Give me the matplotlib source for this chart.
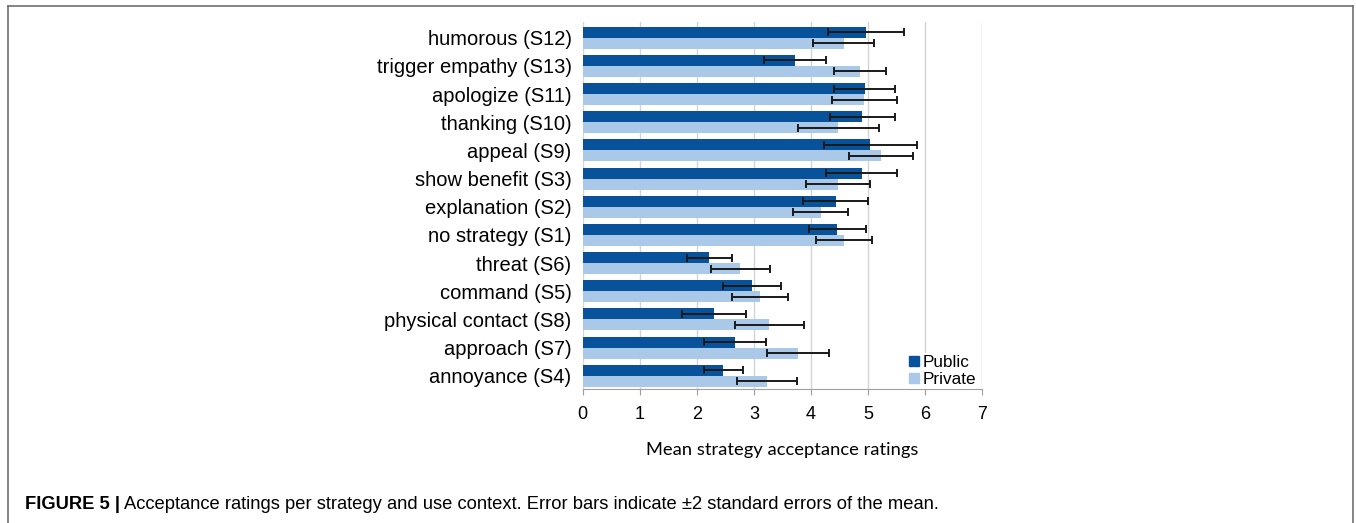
import numpy as np
import matplotlib
matplotlib.use("Agg")
import matplotlib.pyplot as plt
from matplotlib.lines import Line2D

# strategies, listed top to bottom
strategies = ["humorous (S12)", "trigger empathy (S13)", "apologize (S11)",
              "thanking (S10)", "appeal (S9)", "show benefit (S3)",
              "explanation (S2)", "no strategy (S1)", "threat (S6)",
              "command (S5)", "physical contact (S8)", "approach (S7)",
              "annoyance (S4)"]
public_mean = [4.96, 3.72, 4.94, 4.90, 5.04, 4.89, 4.43, 4.46, 2.22, 2.96, 2.30, 2.67, 2.46]
public_err = [0.66, 0.54, 0.53, 0.57, 0.81, 0.62, 0.57, 0.50, 0.40, 0.51, 0.56, 0.55, 0.34]
private_mean = [4.57, 4.86, 4.93, 4.48, 5.22, 4.48, 4.17, 4.58, 2.76, 3.10, 3.27, 3.77, 3.23]
private_err = [0.53, 0.45, 0.57, 0.71, 0.56, 0.56, 0.48, 0.49, 0.52, 0.49, 0.60, 0.54, 0.52]

C_PUB = "#08529C"
C_PRIV = "#AAC8E8"

fig = plt.figure(figsize=(13.56, 5.23), dpi=100)
ax = fig.add_axes([0.4297, 0.2562, 0.2947, 0.7017])

n = len(strategies)
y = np.arange(n)[::-1]
h = 0.39
ekw = dict(ecolor="#1a1a1a", elinewidth=1.4, capsize=3.2, capthick=1.4)
ax.barh(y + h / 2, public_mean, height=h, color=C_PUB, xerr=public_err,
        error_kw=ekw, zorder=2, label="Public")
ax.barh(y - h / 2, private_mean, height=h, color=C_PRIV, xerr=private_err,
        error_kw=ekw, zorder=2, label="Private")

ax.set_xlim(0, 7)
ax.set_ylim(-0.47, n - 0.44)
ax.set_xticks(range(8))
ax.set_yticks(y)
ax.set_yticklabels(strategies, fontsize=14.5, family="Liberation Sans")
ax.tick_params(axis="y", length=0, pad=8)
ax.tick_params(axis="x", length=4, color="#a0a0a0", labelsize=13, pad=8)
for t in ax.get_xticklabels():
    t.set_family("Liberation Sans")
ax.grid(axis="x", color="#d4d4d4", linewidth=1, zorder=0)
ax.set_axisbelow(True)
for s in ["top", "right", "left"]:
    ax.spines[s].set_visible(False)
ax.spines["bottom"].set_color("#a0a0a0")

ax.set_xlabel("Mean strategy acceptance ratings", fontsize=13.2,
              family="Lato", labelpad=14)

handles = [Line2D([], [], marker="s", ls="none", color=C_PUB, markersize=7.5),
           Line2D([], [], marker="s", ls="none", color=C_PRIV, markersize=7.5)]
leg = ax.legend(handles, ["Public", "Private"], loc="lower right",
                bbox_to_anchor=(0.988, 0.0), frameon=True, framealpha=1,
                edgecolor="none", handlelength=0.6, handletextpad=0.2,
                borderpad=0.1, borderaxespad=0.0, labelspacing=0.15,
                prop={"family": "Liberation Sans", "size": 12.3})
leg.get_frame().set_facecolor("white")

# outer frame of the figure panel
for xs, ys in [([0.006, 0.998], [0.988, 0.988]),
               ([0.006, 0.006], [0.988, -0.1]),
               ([0.998, 0.998], [0.988, -0.1])]:
    fig.add_artist(Line2D(xs, ys, color="#707070", linewidth=1.2,
                          transform=fig.transFigure))

cap_y = 0.027
t1 = fig.text(0.0184, cap_y, "FIGURE 5 |", fontsize=13.2, fontweight="bold",
              family="Liberation Sans", va="baseline")
fig.canvas.draw()
bb = t1.get_window_extent()
fig.text(bb.x1 / fig.bbox.width + 0.003, cap_y,
         "Acceptance ratings per strategy and use context. Error bars indicate "
         "\u00b12 standard errors of the mean.",
         fontsize=13.2, family="Liberation Sans", va="baseline")

fig.savefig("out.png", dpi=100)
